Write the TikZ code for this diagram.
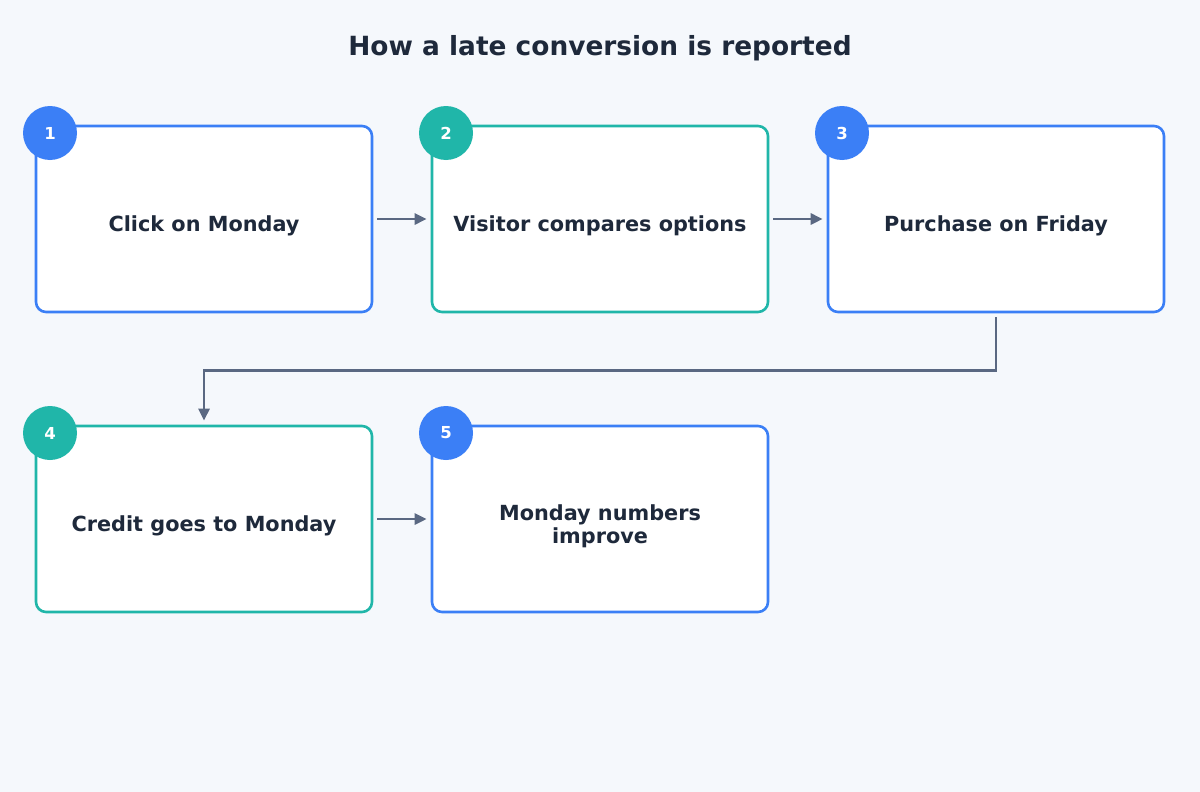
\documentclass[tikz,border=0pt]{standalone}
\usepackage{fontspec}
\setmainfont{DejaVu Sans}
\usetikzlibrary{arrows.meta}
\definecolor{bg}{HTML}{F5F8FC}
\definecolor{blu}{HTML}{3B7FF6}
\definecolor{teal}{HTML}{20B6A9}
\definecolor{ink}{HTML}{1E293B}
\definecolor{arr}{HTML}{5A6882}
\begin{document}
\begin{tikzpicture}[x=1pt,y=-1pt,
 box/.style={draw=#1,line width=2.6pt,fill=white,rounded corners=10pt,minimum width=336pt,minimum height=186pt,inner sep=0pt},
 lbl/.style={align=center,font=\bfseries\fontsize{20.8}{23}\selectfont,text=ink},
 num/.style={circle,fill=#1,minimum size=54pt,inner sep=0pt,text=white,font=\bfseries\fontsize{16.5}{18}\selectfont},
 con/.style={draw=arr,line width=2.6pt,-{Stealth[length=12pt,width=11pt,inset=0pt]}}]
\fill[bg] (0,0) rectangle (1200,792);
\useasboundingbox (0,0) rectangle (1200,792);
\node[font=\bfseries\fontsize{26.4}{30}\selectfont,text=ink] (title) at (600,48) {How a late conversion is reported};
\node[box=blu] (b1) at (204,219) {};
\node[box=teal] (b2) at (600,219) {};
\node[box=blu] (b3) at (996,219) {};
\node[box=teal] (b4) at (204,519) {};
\node[box=blu] (b5) at (600,519) {};
\node[lbl] (t1) at (204,226) {Click on Monday};
\node[lbl] (t2) at (600,226) {Visitor compares options};
\node[lbl] (t3) at (996,226) {Purchase on Friday};
\node[lbl] (t4) at (204,526) {Credit goes to Monday};
\node[lbl] (t5) at (600,526) {Monday numbers\\improve};
\node[num=blu] (n1) at (50,133) {1};
\node[num=teal] (n2) at (446,133) {2};
\node[num=blu] (n3) at (842,133) {3};
\node[num=teal] (n4) at (50,433) {4};
\node[num=blu] (n5) at (446,433) {5};
\draw[con] ([xshift=4pt]b1.east) -- ([xshift=-4pt]b2.west);
\draw[con] ([xshift=4pt]b2.east) -- ([xshift=-4pt]b3.west);
\draw[con] ([xshift=4pt]b4.east) -- ([xshift=-4pt]b5.west);
\draw[con] ([yshift=-4pt]b3.south) -- ++(0,53) -| ([yshift=4pt]b4.north);
\end{tikzpicture}
\end{document}
